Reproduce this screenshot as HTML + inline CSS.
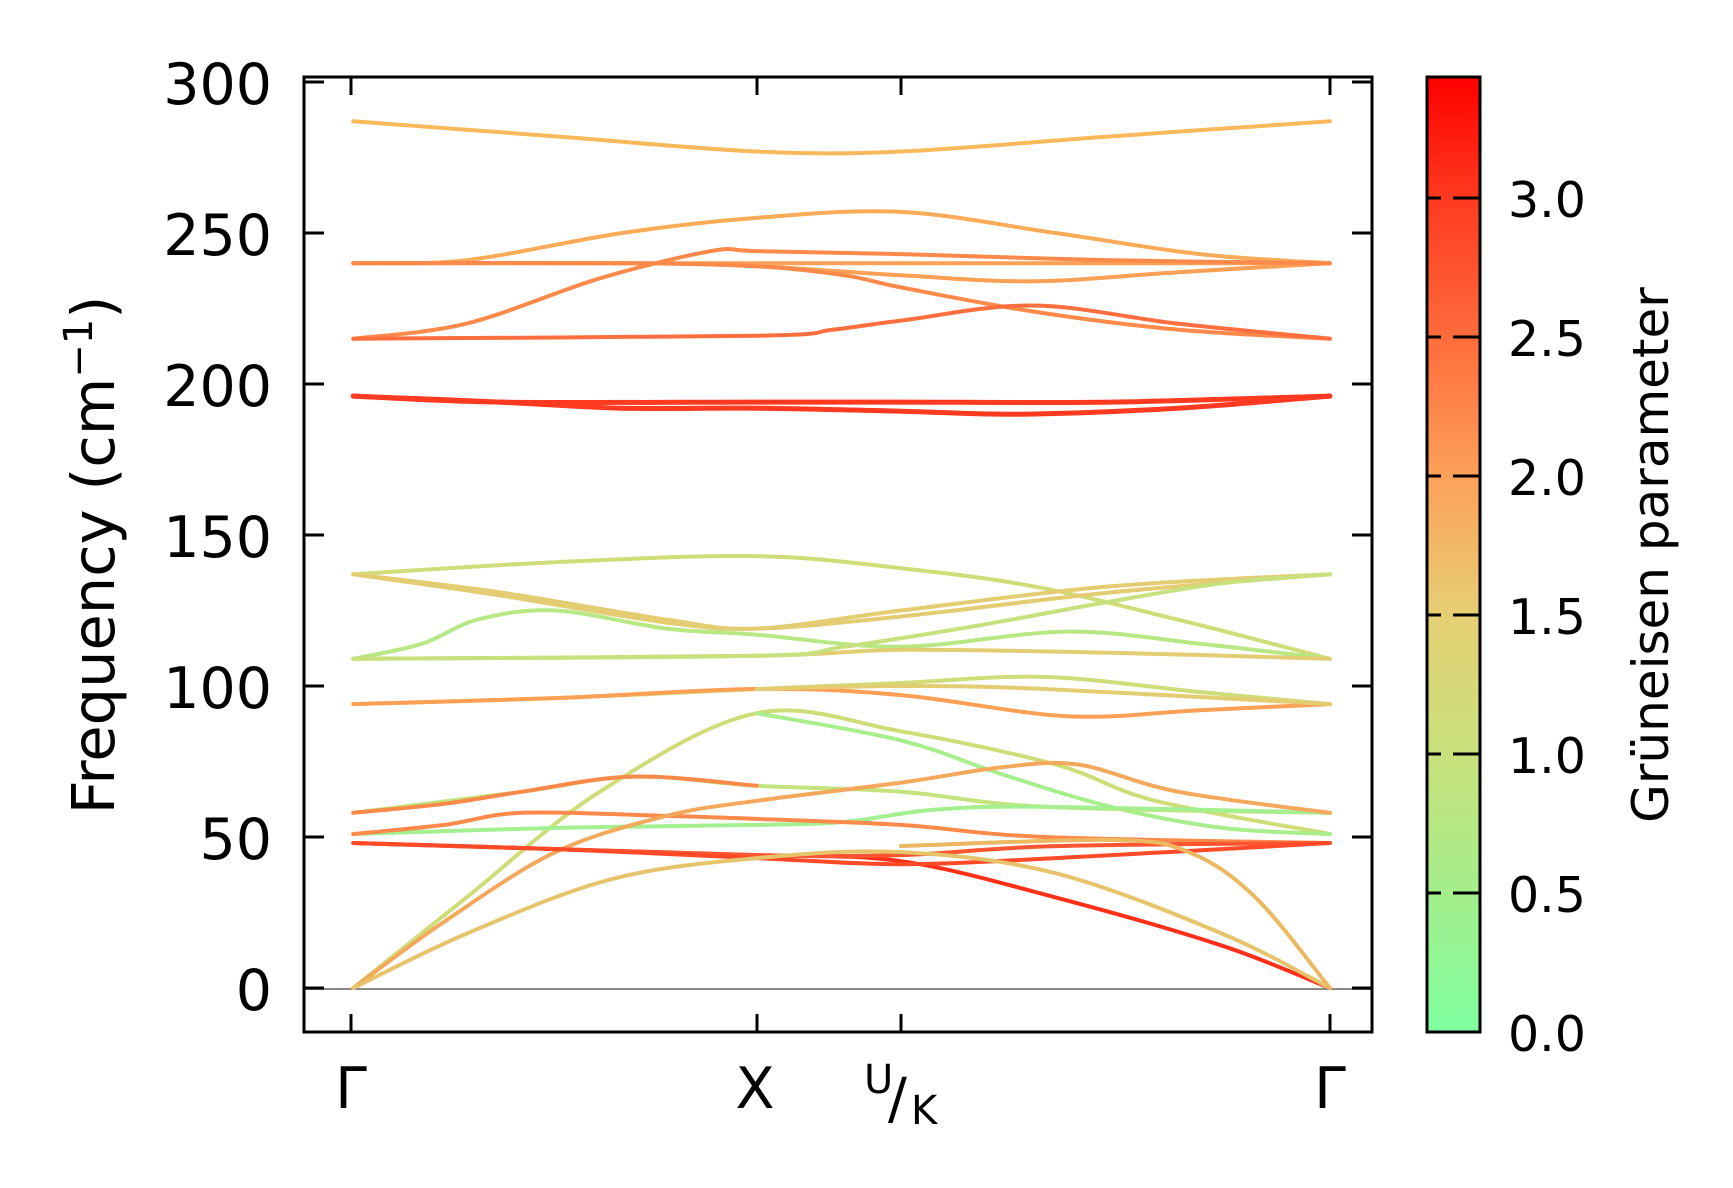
<!DOCTYPE html>
<html><head><meta charset="utf-8"><style>
html,body{margin:0;padding:0;background:#fff}
svg{display:block}
text{font-family:"DejaVu Sans","Liberation Sans",sans-serif;fill:#000}
</style></head><body>
<svg id="s" width="1733" height="1188" viewBox="0 0 1733 1188" xmlns="http://www.w3.org/2000/svg">
<defs>
<linearGradient id="cb" x1="0" y1="1" x2="0" y2="0">
<stop offset="0" stop-color="#80ffa0"/>
<stop offset="0.145" stop-color="#a4ee8c"/>
<stop offset="0.29" stop-color="#c8e17c"/>
<stop offset="0.436" stop-color="#e6cf74"/>
<stop offset="0.58" stop-color="#fca15a"/>
<stop offset="0.727" stop-color="#ff6c3c"/>
<stop offset="0.872" stop-color="#ff3a20"/>
<stop offset="1" stop-color="#ff0000"/>
</linearGradient>
</defs>
<line x1="304" y1="989" x2="1372" y2="989" stroke="#888" stroke-width="2"/>
<g id="bands" fill="none" stroke-linecap="round" stroke-linejoin="round"></g>
<rect x="304" y="77" width="1068" height="955" fill="none" stroke="#000" stroke-width="3"/>
<g stroke="#000" stroke-width="3">
<line x1="304" y1="82" x2="324" y2="82"/><line x1="1352" y1="82" x2="1372" y2="82"/>
<line x1="304" y1="233" x2="324" y2="233"/><line x1="1352" y1="233" x2="1372" y2="233"/>
<line x1="304" y1="384" x2="324" y2="384"/><line x1="1352" y1="384" x2="1372" y2="384"/>
<line x1="304" y1="535" x2="324" y2="535"/><line x1="1352" y1="535" x2="1372" y2="535"/>
<line x1="304" y1="686" x2="324" y2="686"/><line x1="1352" y1="686" x2="1372" y2="686"/>
<line x1="304" y1="837" x2="324" y2="837"/><line x1="1352" y1="837" x2="1372" y2="837"/>
<line x1="304" y1="988" x2="324" y2="988"/><line x1="1352" y1="988" x2="1372" y2="988"/>
<line x1="351" y1="77" x2="351" y2="95"/><line x1="351" y1="1014" x2="351" y2="1032"/>
<line x1="757" y1="77" x2="757" y2="95"/><line x1="757" y1="1014" x2="757" y2="1032"/>
<line x1="901" y1="77" x2="901" y2="95"/><line x1="901" y1="1014" x2="901" y2="1032"/>
<line x1="1330" y1="77" x2="1330" y2="95"/><line x1="1330" y1="1014" x2="1330" y2="1032"/>
</g>
<g font-size="57" text-anchor="end">
<text x="272" y="104">300</text><text x="272" y="255">250</text><text x="272" y="406">200</text>
<text x="272" y="557">150</text><text x="272" y="708">100</text><text x="272" y="859">50</text>
<text x="272" y="1010">0</text>
</g>
<g font-size="57" text-anchor="middle">
<text x="351" y="1108">Γ</text><text x="755" y="1108">X</text><text x="1330" y="1108">Γ</text>
</g>
<text x="864" y="1093" font-size="40">U</text>
<text x="888" y="1118" font-size="56">/</text>
<text x="911" y="1124" font-size="40">K</text>
<text transform="translate(114,555) rotate(-90)" font-size="59" text-anchor="middle">Frequency (cm<tspan font-size="40" dy="-22">−1</tspan><tspan dy="22">)</tspan></text>
<rect x="1427" y="77" width="53" height="955" fill="url(#cb)" stroke="#000" stroke-width="3"/>
<g stroke="#000" stroke-width="3">
<line x1="1427" y1="198" x2="1441" y2="198"/><line x1="1453" y1="198" x2="1480" y2="198"/>
<line x1="1427" y1="337" x2="1441" y2="337"/><line x1="1453" y1="337" x2="1480" y2="337"/>
<line x1="1427" y1="476" x2="1441" y2="476"/><line x1="1453" y1="476" x2="1480" y2="476"/>
<line x1="1427" y1="615" x2="1441" y2="615"/><line x1="1453" y1="615" x2="1480" y2="615"/>
<line x1="1427" y1="754" x2="1441" y2="754"/><line x1="1453" y1="754" x2="1480" y2="754"/>
<line x1="1427" y1="893" x2="1441" y2="893"/><line x1="1453" y1="893" x2="1480" y2="893"/>
</g>
<g font-size="49">
<text x="1508" y="217">3.0</text><text x="1508" y="356">2.5</text><text x="1508" y="495">2.0</text>
<text x="1508" y="634">1.5</text><text x="1508" y="773">1.0</text><text x="1508" y="912">0.5</text>
<text x="1508" y="1051">0.0</text>
</g>
<text transform="translate(1668,555) rotate(-90)" font-size="50" text-anchor="middle">Grüneisen parameter</text>
</svg>
<script>
var g=document.getElementById('bands');
function X(d){return d*1.111;}
function Y(f){return 988-f*3.02;}
function band(pts,col,w){
  var P=pts.map(function(p){return [X(p[0]),Y(p[1])];});
  var d='M'+P[0][0].toFixed(1)+','+P[0][1].toFixed(1);
  for(var i=0;i<P.length-1;i++){
    var p0=P[i-1]||P[i],p1=P[i],p2=P[i+1],p3=P[i+2]||P[i+1];
    var c1=[p1[0]+(p2[0]-p0[0])/6,p1[1]+(p2[1]-p0[1])/6];
    var c2=[p2[0]-(p3[0]-p1[0])/6,p2[1]-(p3[1]-p1[1])/6];
    d+=' C'+c1[0].toFixed(1)+','+c1[1].toFixed(1)+' '+c2[0].toFixed(1)+','+c2[1].toFixed(1)+' '+p2[0].toFixed(1)+','+p2[1].toFixed(1);
  }
  var e=document.createElementNS('http://www.w3.org/2000/svg','path');
  e.setAttribute('d',d);e.setAttribute('stroke',col);e.setAttribute('stroke-width',w||4);
  g.appendChild(e);
}
var O1='#f7b95c',O2='#fba055',O3='#fd8a4a',R='#ff3a20',Y1='#e3cc72',G1='#d0dc78',GR='#a8ee8c';
band([[318,287],[500,282],[681,277],[811,277],[1000,282],[1197,287]],O1);
band([[318,240],[420,241],[560,250],[681,255],[811,257],[950,250],[1080,243],[1197,240]],'#f9ab58');
band([[318,240],[681,240],[811,240],[1197,240]],O2);
band([[318,240],[560,240],[681,239],[811,236],[930,234],[1060,237],[1197,240]],O2);
band([[318,240],[560,240],[681,239],[760,236],[811,232],[930,224],[1060,218],[1197,215]],O3);
band([[318,215],[420,220],[540,235],[640,244],[681,244],[811,243],[1000,241],[1197,240]],O3);
band([[318,215],[681,216],[750,218],[811,221],[930,226],[1060,220],[1197,215]],'#fe6e3e');
band([[318,196],[450,194],[681,194],[811,194],[1000,194],[1197,196]],R,5);
band([[318,196],[450,194],[560,192],[681,192],[811,191],[920,190],[1060,192],[1197,196]],R,5);
band([[318,137],[500,141],[681,143],[811,139],[930,133],[1060,122],[1197,109]],G1);
band([[318,137],[450,131],[600,122],[681,119],[811,125],[1000,133],[1197,137]],Y1);
band([[318,137],[450,130],[600,121],[681,119],[811,123],[1000,131],[1197,137]],Y1);
band([[318,109],[380,114],[430,122],[500,125],[600,119],[681,117],[811,113],[960,118],[1080,114],[1197,109]],'#b8e884');
band([[318,109],[681,110],[811,112],[1000,111],[1197,109]],Y1);
band([[318,109],[681,110],[760,113],[880,120],[1000,128],[1100,134],[1197,137]],'#c6e17e');
band([[318,94],[500,96],[681,99],[811,101],[940,103],[1080,98],[1197,94]],G1);
band([[318,94],[500,96],[681,99],[811,97],[960,90],[1080,92],[1197,94]],O2);
band([[681,99],[811,100],[940,99],[1197,94]],Y1);
band([[318,0],[420,30],[540,65],[681,91],[811,85],[950,74],[1040,62],[1197,51]],G1);
band([[681,91],[811,82],[900,71],[1000,60],[1100,53],[1197,51]],GR);
band([[318,58],[470,65],[570,70],[681,67],[811,65],[940,60],[1197,58]],'#c4e27e');
band([[318,58],[400,61],[470,65],[570,70],[681,67]],'#fb8a4a');
band([[318,51],[500,53],[681,54],[760,55],[840,59],[940,60],[1197,58]],'#a4f090');
band([[318,51],[400,54],[470,58],[600,57],[681,56],[811,54],[940,50],[1197,48]],O3);
band([[318,0],[400,22],[500,45],[600,57],[681,62],[811,68],[900,73],[970,74],[1060,65],[1197,58]],'#f4a85c');
band([[318,48],[500,46],[681,44],[811,42],[950,30],[1100,14],[1197,0]],'#ff3018');
band([[318,48],[500,46],[681,44],[811,44],[950,47],[1197,48]],'#ff5530');
band([[318,48],[500,46],[681,43],[811,41],[950,43],[1197,48]],'#ff4a28');
band([[318,0],[420,18],[550,36],[681,43],[811,45],[950,38],[1100,18],[1197,0]],'#e6c46c');
band([[811,47],[1000,49],[1070,45],[1130,30],[1197,0]],'#ecb862');
</script>
</body></html>
